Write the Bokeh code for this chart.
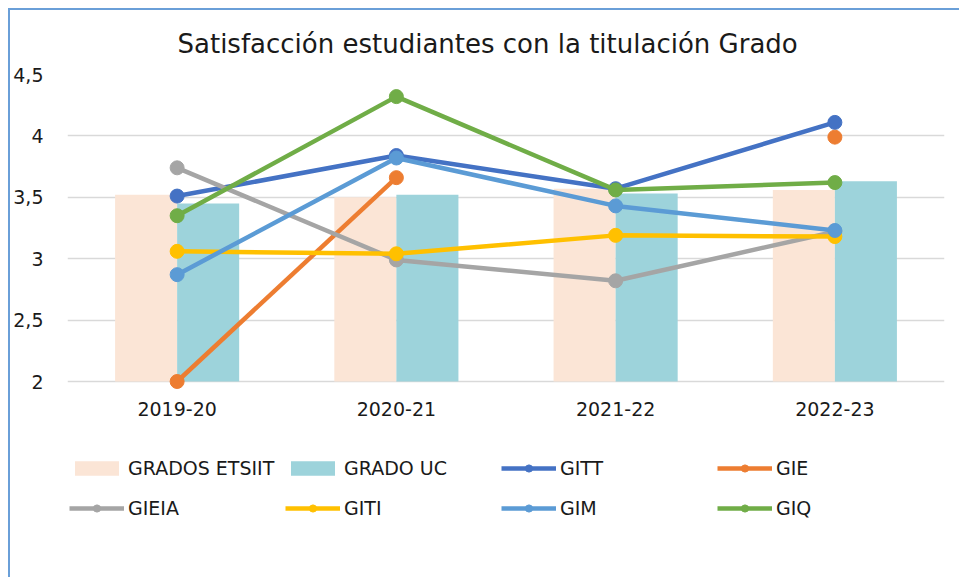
import math
from bokeh.plotting import figure
from bokeh.models import (ColumnDataSource, FactorRange, Range1d, Legend, LegendItem,
                          FixedTicker, CustomJSTickFormatter, Title)
from bokeh.transform import dodge
from bokeh.embed import file_html
from bokeh.resources import INLINE

# ---- data ----
years = ["2019-20", "2020-21", "2021-22", "2022-23"]
grados_etsiit = [3.52, 3.50, 3.57, 3.56]
grado_uc = [3.45, 3.52, 3.53, 3.63]
gitt = [3.51, 3.84, 3.57, 4.11]
gie = [2.00, 3.66, float("nan"), 3.99]
gieia = [3.74, 2.99, 2.82, 3.22]
giti = [3.06, 3.04, 3.19, 3.18]
gim = [2.87, 3.82, 3.43, 3.23]
giq = [3.35, 4.32, 3.56, 3.62]
y_ticks = [2, 2.5, 3, 3.5, 4, 4.5]
y_min, y_max = 2, 4.5

title_text = "Satisfacción estudiantes con la titulación Grado"

src = ColumnDataSource(dict(years=years, etsiit=grados_etsiit, uc=grado_uc,
                            GITT=gitt, GIE=gie, GIEIA=gieia, GITI=giti, GIM=gim, GIQ=giq))

FONT = "DejaVu Sans"

# frame spans canvas y 64..519; value axis 2..4.5 occupies 64..371,
# the space below hosts the category labels and the legend
px_per_unit = 307 / (y_max - y_min)
y_start = y_min - (519 - 371) / px_per_unit

p = figure(x_range=FactorRange(*years, range_padding=0), y_range=Range1d(y_start, y_max),
           width=951, height=569, output_backend="svg", toolbar_location=None,
           min_border_left=57, min_border_right=17, min_border_top=64, min_border_bottom=50)
p.styles = {"margin-left": "8px", "margin-top": "8px",
            "border-left": "2px solid #6A9FD8", "border-top": "2px solid #6A9FD8"}
p.outline_line_color = None
p.background_fill_color = "white"
p.border_fill_color = "white"

t = Title(text=title_text, align="left", offset=110, text_font=FONT,
          text_font_size="26px", text_font_style="normal", text_color="#1a1a1a", standoff=31)
p.add_layout(t, "above")

bw = 0.283
r_e = p.vbar(x=dodge("years", -bw / 2, range=p.x_range), top="etsiit", bottom=y_min, width=bw,
             source=src, fill_color="#FBE5D6", line_color=None)
r_u = p.vbar(x=dodge("years", bw / 2, range=p.x_range), top="uc", bottom=y_min, width=bw,
             source=src, fill_color="#9DD3DB", line_color=None)

series = [("GITT", "#4472C4"), ("GIE", "#ED7D31"), ("GIEIA", "#A5A5A5"),
          ("GITI", "#FFC000"), ("GIM", "#5B9BD5"), ("GIQ", "#70AD47")]
items = [LegendItem(label="GRADOS ETSIIT", renderers=[r_e]),
         LegendItem(label="GRADO UC", renderers=[r_u])]
for name, col in series:
    ln = p.line(x="years", y=name, source=src, line_color=col, line_width=4.5)
    sc = p.scatter(x="years", y=name, source=src, size=14, fill_color=col, line_color=col)
    items.append(LegendItem(label=name, renderers=[ln, sc]))

# axes
p.yaxis.ticker = FixedTicker(ticks=y_ticks)
p.yaxis.formatter = CustomJSTickFormatter(code="return tick.toString().replace('.', ',');")
p.xaxis.fixed_location = y_min
for ax in (p.xaxis, p.yaxis):
    ax.axis_line_color = None
    ax.major_tick_line_color = None
    ax.minor_tick_line_color = None
    ax.major_tick_out = 0
    ax.major_tick_in = 0
    ax.major_label_text_font = FONT
    ax.major_label_text_font_size = "19px"
    ax.major_label_text_color = "#1a1a1a"
p.yaxis.major_label_standoff = 24
p.xaxis.major_label_standoff = 20
p.xgrid.grid_line_color = None
p.ygrid.grid_line_color = "#D9D9D9"
p.ygrid.grid_line_width = 1.5

common = dict(orientation="horizontal", glyph_width=55, glyph_height=18, label_height=18,
              label_width=147, label_standoff=4, spacing=10, padding=0, margin=0,
              label_text_font=FONT, label_text_font_size="19px", label_text_color="#1a1a1a",
              border_line_color=None, background_fill_alpha=0)
leg1 = Legend(items=items[:4], location=(2, 50), **common)
leg2 = Legend(items=items[4:], location=(2, 10), **common)
p.add_layout(leg1, "center")
p.add_layout(leg2, "center")

open("out.html", "w").write(file_html(p, INLINE))
